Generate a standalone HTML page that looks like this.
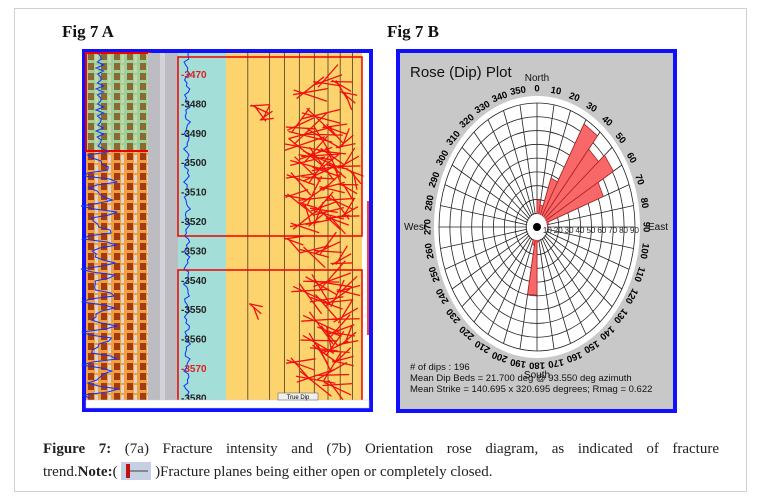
<!DOCTYPE html>
<html><head><meta charset="utf-8"><style>
body{margin:0;width:761px;height:502px;background:#fff;overflow:hidden;position:relative;font-family:"Liberation Serif",serif}
.card{position:absolute;left:14px;top:8px;width:733px;height:484px;border:1px solid #d0d0d0;box-sizing:border-box}
.lbl{position:absolute;font-weight:bold;font-size:17px;color:#111}
.cap{position:absolute;left:43px;width:676px;font-size:15px;color:#222;line-height:23px;text-align:justify;text-align-last:justify}
</style></head><body>
<div class="card"></div>
<div class="lbl" style="left:62px;top:22px">Fig 7 A</div>
<div class="lbl" style="left:387px;top:22px">Fig 7 B</div>

<svg width="761" height="502" style="position:absolute;left:0;top:0">
<g id="panelA">
<rect x="84" y="51" width="287" height="359" fill="#fff" stroke="#1010ff" stroke-width="4"/>
<rect x="86" y="53" width="62" height="98" fill="#9ccf9a"/>
<rect x="86" y="151" width="62" height="249" fill="#f0a040"/>
<g id="imgStripes"></g>
<rect x="86" y="53" width="64" height="98" fill="none" stroke="#e00" stroke-width="2"/>
<rect x="148" y="53" width="30" height="347" fill="#bdbcc2"/>
<rect x="160" y="53" width="5" height="347" fill="#d4d3d8"/>
<rect x="178" y="53" width="48" height="347" fill="#a3ded8"/>
<rect x="226" y="53" width="136" height="347" fill="#fdd36e"/>
<g id="vlines"></g>
<polyline id="gammaA" fill="none" stroke="#1030ff" stroke-width="1"/>
<polyline id="gammaB" fill="none" stroke="#1030ff" stroke-width="1"/>
<g id="fractures"></g>
<g id="depthLabels" font-family="Liberation Sans,sans-serif" font-size="10" font-weight="bold"></g>
<rect x="178" y="57" width="184" height="179" fill="none" stroke="#e00" stroke-width="1.5"/>
<rect x="178" y="270" width="184" height="131" fill="none" stroke="#e00" stroke-width="1.5"/>
<line x1="368" y1="201" x2="368" y2="335" stroke="#e00" stroke-width="1.5"/>
<rect x="86" y="400" width="283" height="8" fill="#fff" stroke="#ccc" stroke-width="0.5"/>
<rect x="278" y="393" width="40" height="7" fill="#eee" stroke="#555" stroke-width="0.5"/>
<text x="298" y="399" font-size="6" text-anchor="middle" font-family="Liberation Sans,sans-serif">True Dip</text>
</g>

<g id="panelB">
<rect x="398" y="51" width="277" height="360" fill="#c8c8c8" stroke="#1010ff" stroke-width="4"/>
<text x="410" y="77" font-family="Liberation Sans,sans-serif" font-size="15" fill="#111">Rose (Dip) Plot</text>
<ellipse cx="537" cy="227" rx="103" ry="131" fill="#fff"/>
<g id="rose"></g>
<g font-family="Liberation Sans,sans-serif" font-size="10" fill="#111">
<text x="537" y="81" text-anchor="middle">North</text>
<text x="537" y="378" text-anchor="middle">South</text>
<text x="404" y="230">West</text>
<text x="648" y="230">East</text>
<text x="410" y="370" font-size="9.5"># of dips : 196</text>
<text x="410" y="381" font-size="9.5">Mean Dip Beds = 21.700 deg @ 93.550 deg azimuth</text>
<text x="410" y="392" font-size="9.5">Mean Strike = 140.695 x 320.695 degrees; Rmag = 0.622</text>
</g>
</g>
</svg>

<div class="cap" style="top:438px"><b>Figure 7:</b> (7a) Fracture intensity and (7b) Orientation rose diagram, as indicated of fracture</div>
<div class="cap" style="top:461px;text-align-last:left;text-align:left">trend.<b>Note:</b>( <span style="display:inline-block;width:30px;height:18px;background:#c6d0e4;vertical-align:-4px;position:relative"><span style="position:absolute;left:5px;top:2px;width:4px;height:14px;background:#c01010"></span><span style="position:absolute;left:9px;top:8px;width:18px;height:2px;background:#888"></span></span> )Fracture planes being either open or completely closed.</div>

<script>
const NS='http://www.w3.org/2000/svg';
function mk(p,t,a){const e=document.createElementNS(NS,t);for(const k in a)e.setAttribute(k,a[k]);p.appendChild(e);return e;}
// ---- Panel A data ----
const depthTicks=[3470,3480,3490,3500,3510,3520,3530,3540,3550,3560,3570,3580];
const redTicks=[3470,3570];
const trackLines=[0.16,0.32,0.43,0.54,0.65,0.75,0.84,0.93];
const fracDepth=[3472,3474,3476,3478,3482,3484,3485,3487,3489,3490,3492,3493,3495,3497,3498,3499,3500,3501,3502,3503,3504,3505,3506,3508,3509,3511,3512,3514,3515,3516,3517,3518,3519,3520,3521,3527,3529,3531,3533,3540,3542,3543,3545,3546,3548,3550,3552,3555,3557,3559,3560,3562,3563,3565,3567,3569,3571,3574,3577];
const fracPos=[0.75,0.85,0.62,0.9,0.25,0.3,0.7,0.55,0.8,0.62,0.72,0.88,0.58,0.66,0.78,0.7,0.9,0.6,0.74,0.82,0.68,0.95,0.55,0.78,0.9,0.65,0.52,0.84,0.72,0.6,0.9,0.76,0.68,0.82,0.58,0.5,0.75,0.65,0.85,0.78,0.7,0.9,0.62,0.82,0.74,0.22,0.88,0.7,0.84,0.76,0.9,0.68,0.8,0.72,0.86,0.55,0.78,0.66,0.82];
const fracAngle=[-20,30,-10,40,25,-35,15,-25,20,-15,30,-40,10,-20,35,25,-30,15,-10,40,-25,50,20,-15,30,-35,10,25,-20,45,-30,15,-40,20,-10,20,-25,15,-30,-20,30,-15,25,-35,20,40,-30,25,-20,50,-40,30,-25,35,-15,20,-30,10,25];
const fracLen=[30,22,35,18,20,14,40,30,25,45,38,20,42,35,28,40,24,36,30,22,34,18,30,26,20,32,24,30,28,20,22,30,26,24,30,20,28,30,22,40,36,24,38,30,34,14,28,40,30,26,20,36,30,28,22,30,34,40,30];
const A={x0:226,w:136,y0:74,d0:3470,py:2.94};
function yD(d){return A.y0+(d-A.d0)*A.py;}
function xT(t){return A.x0+t*A.w;}
const vl=document.getElementById('vlines');
trackLines.forEach(t=>{const l=mk(vl,'line',{x1:xT(t),y1:53,x2:xT(t),y2:400,stroke:'#6b5a2a','stroke-width':1});

});
const fr=document.getElementById('fractures');
fracDepth.forEach((d,i)=>{const cx=xT(fracPos[i]),cy=yD(d),a=fracAngle[i]*Math.PI/180,h=fracLen[i]/2;
for(let k=-1;k<=1;k++){const aa=a+k*0.5;
const l=mk(fr,'line',{x1:cx-h*Math.cos(aa),y1:cy-h*Math.sin(aa)+k*4,x2:cx+h*Math.cos(aa),y2:cy+h*Math.sin(aa)+k*4,stroke:'#f01010','stroke-width':1.3});

}});
const dl=document.getElementById('depthLabels');
depthTicks.forEach(d=>{const t=mk(dl,'text',{x:181,y:yD(d)+4,fill:redTicks.includes(d)?'#e02020':'#222'});t.textContent='-'+d;

});
let pa=[],pb=[];
for(let y=53;y<=400;y+=3){const s=Math.sin(y*0.37)*2+Math.sin(y*1.3)*1.5;pa.push((187+s)+','+y);
const s2=y<150?Math.sin(y*0.9)*4:Math.sin(y*1.7)*12+Math.sin(y*0.6)*8;pb.push((100+s2)+','+y);}
document.getElementById('gammaA').setAttribute('points',pa.join(' '));
document.getElementById('gammaB').setAttribute('points',pb.join(' '));
const st=document.getElementById('imgStripes');
for(let y=53;y<400;y+=10){for(let x=88;x<146;x+=13){const dark=y<151?'#8a6a30':'#a33a10';
mk(st,'rect',{x:x,y:y,width:6,height:7,fill:dark});mk(st,'rect',{x:x+7,y:y+2,width:3,height:8,fill:y<151?'#c7d6a5':'#dcd6d0'});}}
// ---- Rose data ----
const binStart=[0,10,20,30,40,50,60,70,170,180,190];
const binValue=[0.22,0.18,0.42,0.96,0.82,0.9,0.72,0.12,0.12,0.55,0.15];
const dialLabels=[0,10,20,30,40,50,60,70,80,90,100,110,120,130,140,150,160,170,180,190,200,210,220,230,240,250,260,270,280,290,300,310,320,330,340,350];
const radialLabels=[10,20,30,40,50,60,70,80,90];
const R={cx:537,cy:227,rx:98,ry:124};
function pt(az,r){const a=az*Math.PI/180;return [R.cx+R.rx*r*Math.sin(a),R.cy-R.ry*r*Math.cos(a)];}
const rose=document.getElementById('rose');
radialLabels.forEach(v=>{const e=mk(rose,'ellipse',{cx:R.cx,cy:R.cy,rx:R.rx*v/90,ry:R.ry*v/90,fill:'none',stroke:'#222','stroke-width':0.8});

});
dialLabels.forEach(az=>{const p0=pt(az,0.1),p1=pt(az,1);
const l=mk(rose,'line',{x1:p0[0],y1:p0[1],x2:p1[0],y2:p1[1],stroke:'#222','stroke-width':0.8});


const q=pt(az,1.12);const t=mk(rose,'text',{x:q[0],y:q[1]+3.5,'text-anchor':'middle','font-family':'Liberation Sans,sans-serif','font-size':9.5,'font-weight':'bold',transform:'rotate('+az+' '+q[0]+' '+q[1]+')'});t.textContent=az;

});
binStart.forEach((b,i)=>{const r=binValue[i],p1=pt(b,r),p2=pt(b+10,r),c=pt(b,0.02),c2=pt(b+10,0.02);
const s=mk(rose,'polygon',{points:[c,p1,p2,c2].map(p=>p.join(',')).join(' '),fill:'#f86868',stroke:'#b02020','stroke-width':0.8});

});
mk(rose,'ellipse',{cx:R.cx,cy:R.cy,rx:10,ry:13,fill:'#fff'});
mk(rose,'circle',{cx:R.cx,cy:R.cy,r:4,fill:'#000'});
radialLabels.forEach(v=>{const t=mk(rose,'text',{x:R.cx+R.rx*v/90-5,y:R.cy+6,'font-family':'Liberation Sans,sans-serif','font-size':8,fill:'#222'});t.textContent=v;

});
</script>
</body></html>
